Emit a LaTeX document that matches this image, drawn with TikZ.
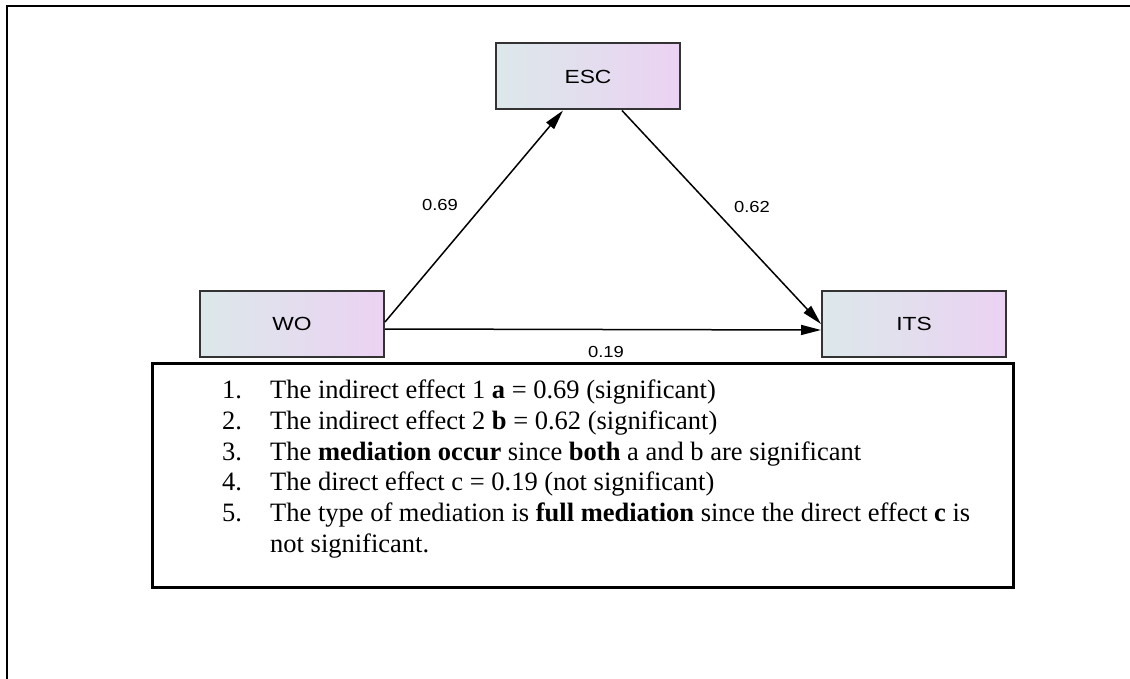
\documentclass[tikz,border=0pt]{standalone}
\usepackage{fontspec}
\setmainfont{Liberation Serif}
\newfontfamily\arialfont{Liberation Sans}
\usetikzlibrary{arrows.meta}
\definecolor{boxL}{RGB}{220,232,234}
\definecolor{boxR}{RGB}{235,210,243}
\begin{document}
\begin{tikzpicture}[x=1pt,y=-1pt,
  varbox/.style={draw=black!80, line width=2pt, left color=boxL, right color=boxR,
    minimum width=184pt, minimum height=66pt, inner sep=0pt,
    font=\arialfont\fontsize{19}{21}\selectfont},
  pathedge/.style={line width=1.5pt, -{Triangle[length=20pt,width=10pt]}},
  coef/.style={font=\arialfont\fontsize{16}{18}\selectfont, inner sep=0pt},
  item/.style={anchor=base west, inner sep=0pt, font=\fontsize{26.5}{31}\selectfont},
  notebox/.style={draw, line width=3pt, minimum width=861pt, minimum height=224pt, inner sep=0pt}]
\useasboundingbox (0,0) rectangle (1130,679);
% outer frame (open to right and bottom)
\draw[line width=2.5pt] (7,690) -- (7,6) -- (1140,6);
% variables
\node[varbox] (esc) at (588,76.5) {\scalebox{1.2}[1]{ESC}};
\node[varbox] (wo) at (292,324) {\scalebox{1.2}[1]{WO}};
\node[varbox] (its) at (914,324) {\scalebox{1.2}[1]{ITS}};
% paths
\draw[pathedge] ([yshift=2pt]wo.east) -- ([xshift=-25pt]esc.south);
\draw[pathedge] ([xshift=34pt]esc.south) -- (its.west);
\draw[pathedge] ([yshift=-5pt]wo.east) -- ([yshift=-6pt]its.west);
% coefficients
\node[coef] (ca) at (440,205) {\scalebox{1.15}[1]{0.69}};
\node[coef] (cb) at (752,207) {\scalebox{1.15}[1]{0.62}};
\node[coef] (cc) at (606,352) {\scalebox{1.15}[1]{0.19}};
% notes box
\node[notebox] (notes) at (582.5,475) {};
\node[item] (n1) at (222,398) {1.};
\node[item] (t1) at (270,398) {The indirect effect 1 \textbf{a} = 0.69 (significant)};
\node[item] (n2) at (222,429) {2.};
\node[item] (t2) at (270,429) {The indirect effect 2 \textbf{b} = 0.62 (significant)};
\node[item] (n3) at (222,460) {3.};
\node[item] (t3) at (270,460) {The \textbf{mediation occur} since \textbf{both} a and b are significant};
\node[item] (n4) at (222,490) {4.};
\node[item] (t4) at (270,490) {The direct effect c = 0.19 (not significant)};
\node[item] (n5) at (222,521) {5.};
\node[item] (t5) at (270,521) {The type of mediation is \textbf{full mediation} since the direct effect \textbf{c} is};
\node[item] (t6) at (270,552) {not significant.};
\end{tikzpicture}
\end{document}
